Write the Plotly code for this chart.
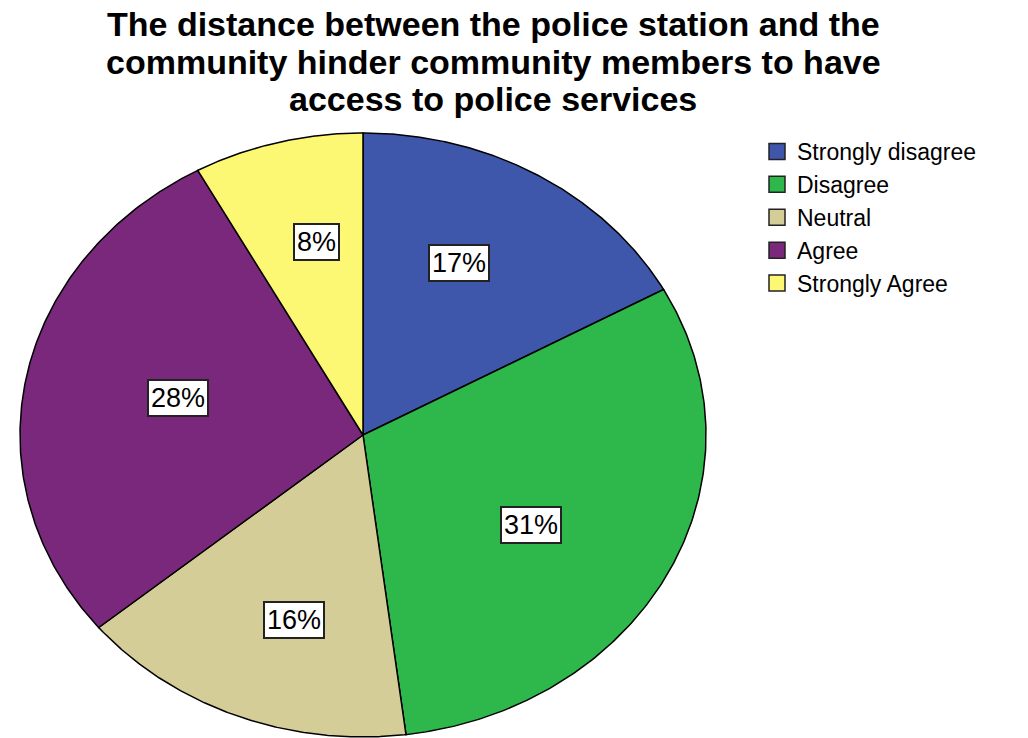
import numpy as np
import plotly.graph_objects as go

categories = ["Strongly disagree", "Disagree", "Neutral", "Agree", "Strongly Agree"]
percentages = [17, 31, 16, 28, 8]
colors = ["#3F57AB", "#2EB84C", "#D5CD97", "#7A287C", "#FCF873"]
title_lines = [
    "The distance between the police station and the",
    "community hinder community members to have",
    "access to police services",
]

fig = go.Figure()

total = sum(percentages)
cum = 0.0
label_pos = []
for cat, pct, col in zip(categories, percentages, colors):
    a0 = 2 * np.pi * cum / total
    a1 = 2 * np.pi * (cum + pct) / total
    t = np.linspace(a0, a1, 200)
    xs = np.concatenate([[0], np.sin(t), [0]])
    ys = np.concatenate([[0], np.cos(t), [0]])
    fig.add_trace(go.Scatter(
        x=xs, y=ys, mode="lines", fill="toself", fillcolor=col,
        line=dict(color="black", width=1.5), showlegend=False, hoverinfo="skip",
    ))
    mid = (a0 + a1) / 2
    label_pos.append((0.55 * np.sin(mid), 0.66 * np.cos(mid), f"{pct}%"))
    cum += pct

for cat, col in zip(categories, colors):
    fig.add_trace(go.Scatter(
        x=[None], y=[None], mode="markers", name=cat,
        marker=dict(symbol="square", size=20, color=col, line=dict(color="#222", width=1.5)),
    ))

for x, y, txt in label_pos:
    fig.add_annotation(
        x=x, y=y, xref="x", yref="y", text=txt, showarrow=False,
        font=dict(family="Arial, Liberation Sans", size=27, color="black"),
        bgcolor="white", bordercolor="#222", borderwidth=2, borderpad=2,
    )

for i, line in enumerate(title_lines):
    fig.add_annotation(
        x=0.48, y=1 - (24 + 37.5 * i) / 738, xref="paper", yref="paper",
        text=f"<b>{line}</b>", showarrow=False, xanchor="center", yanchor="middle",
        font=dict(family="Arial, Liberation Sans", size=34, color="black"),
    )

cx, cy, rx, ry = 363, 435, 343, 302
fig.update_layout(
    width=1028, height=738,
    margin=dict(l=0, r=0, t=0, b=0),
    paper_bgcolor="white", plot_bgcolor="white",
    xaxis=dict(range=[-cx / rx, (1028 - cx) / rx], visible=False, fixedrange=True),
    yaxis=dict(range=[-(738 - cy) / ry, cy / ry], visible=False, fixedrange=True),
    legend=dict(
        x=757 / 1028, y=1 - 130 / 738, xanchor="left", yanchor="top",
        font=dict(family="Arial, Liberation Sans", size=23, color="black"),
        bgcolor="rgba(0,0,0,0)", tracegroupgap=0, itemwidth=30,
    ),
    showlegend=True,
)

fig.write_html("out.html")
